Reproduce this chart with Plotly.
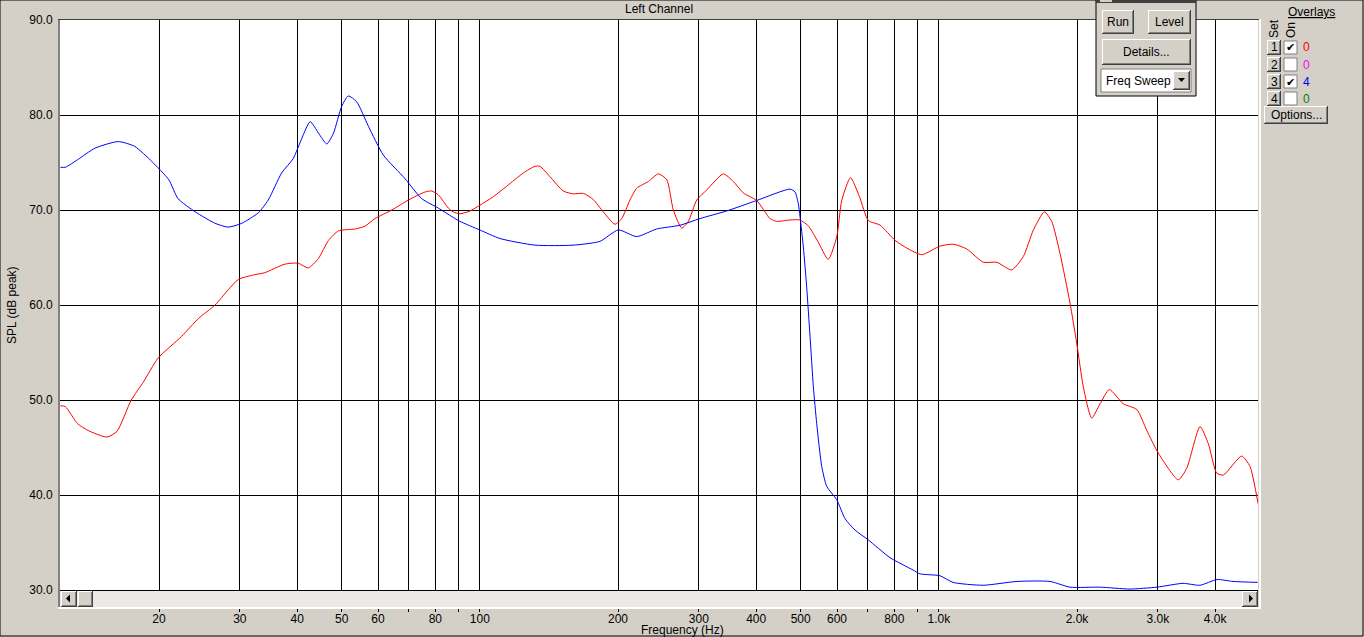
import math
import plotly.graph_objects as go

# frequency response (Hz, dB SPL peak)
blue_freq = [12.2, 12.5, 13.3, 14.5, 16.3, 17.7, 19.3, 21.0, 22.0, 24.0, 26.5, 28.3, 30.3, 32.9,
             34.6, 37.0, 39.2, 40.9, 42.7, 44.5, 46.4, 48.0, 50.0, 51.7, 53.9, 57.2, 61.6, 68.7,
             74.7, 81.2, 88.3, 90.5, 100, 110.6, 131.9, 159.6, 182.7, 200.3, 219.7, 242.8, 273,
             301.8, 345, 401, 474, 486, 494, 498.4, 506.8, 515.5, 524.1, 532.9, 542, 555.8, 570,
             599.3, 624.8, 657, 701, 783, 879, 910, 1006, 1074, 1249, 1480, 1747, 1931, 2245,
             2609, 2988, 3404, 3707, 4037, 4375, 4950]
blue_db = [74.5, 74.5, 75.3, 76.5, 77.2, 76.7, 75.1, 73.2, 71.2, 69.8, 68.6, 68.2, 68.6, 69.7,
           71.05, 73.9, 75.4, 77.5, 79.3, 78.1, 76.95, 78.1, 80.9, 82.0, 81.4, 78.8, 75.8, 73.3,
           71.2, 70.2, 69.1, 68.8, 67.9, 67.0, 66.3, 66.3, 66.7, 67.9, 67.2, 68.0, 68.4,
           69.1, 69.9, 71.0, 72.2, 71.9, 70.7, 69.3, 66.1, 61.8, 56.7, 51.4, 47.5, 43.0, 40.9,
           39.5, 37.5, 36.3, 35.3, 33.4, 32.1, 31.7, 31.5, 30.8, 30.5, 30.9, 30.9, 30.3, 30.3,
           30.1, 30.3, 30.7, 30.5, 31.1, 30.9, 30.8]

red_freq = [12.2, 12.5, 13.3, 14.0, 15.4, 16.2, 17.4, 18.5, 19.9, 22.4,
            24.4, 26.5, 28.3, 29.8, 32.4, 34.0, 37.6, 40.2, 42.3, 44.5,
            46.8, 49.2, 53.5, 56.2, 59.1, 64.3, 69.9, 76.0, 78.5, 81.2,
            85.4, 87.5, 90.5, 95.2, 100, 107, 114.4, 124.4, 131.9, 135.2,
            142.2, 152, 159.8, 168.1, 176.7, 185.8, 197, 203.8, 212.4, 219.7,
            232.9, 244.8, 255.4, 264, 275.4, 284.6, 296.9, 312.1, 339.2, 356.7,
            375, 401, 428.7, 443.4, 474, 498, 520, 545, 574.3, 599.3,
            614.4, 642, 671.6, 702, 745, 803, 851, 918, 1006, 1075,
            1150, 1250, 1337, 1441, 1528, 1607, 1698, 1762, 1837, 1931,
            1997, 2064, 2153, 2245, 2352, 2523, 2700, 2838, 3008, 3324,
            3467, 3707, 3865, 4031, 4167, 4569, 4764, 4960]
red_db = [49.4, 49.3, 47.5, 46.8, 46.1, 46.7, 50.0, 51.9, 54.4, 56.7,
          58.6, 60.0, 61.6, 62.7, 63.2, 63.4, 64.3, 64.4, 63.9, 64.9,
          66.8, 67.8, 68.0, 68.3, 69.1, 70.0, 71.05, 71.9, 72.0, 71.6,
          70.2, 69.8, 69.6, 69.9, 70.5, 71.4, 72.5, 73.9, 74.6, 74.6,
          73.5, 72.0, 71.7, 71.75, 71.1, 69.8, 68.5, 69.1, 71.05, 72.3,
          73.0, 73.8, 73.2, 70.0, 68.1, 68.8, 71.05, 72.1, 73.8, 73.0,
          71.8, 71.0, 69.1, 68.8, 68.95, 68.95, 68.3, 66.7, 64.8, 67.2,
          71.0, 73.4, 71.4, 68.9, 68.4, 66.8, 66.0, 65.3, 66.2, 66.4,
          65.9, 64.5, 64.5, 63.7, 65.1, 67.9, 69.8, 68.8, 65.4, 60.2,
          56.0, 51.4, 48.1, 49.6, 51.1, 49.6, 49.0, 46.8, 44.4, 41.6,
          42.8, 47.2, 45.4, 42.3, 42.1, 44.1, 43.0, 39.1]

grid_freqs = [20, 30, 40, 50, 60, 70, 80, 90, 100, 200, 300, 400, 500, 600, 700, 800, 900,
              1000, 2000, 3000, 4000]
grid_labels = ["20", "30", "40", "50", "60", "", "80", "", "100", "200", "300", "400", "500",
               "600", "", "800", "", "1.0k", "2.0k", "3.0k", "4.0k"]
db_ticks = [30, 40, 50, 60, 70, 80, 90]
db_labels = ["30.0", "40.0", "50.0", "60.0", "70.0", "80.0", "90.0"]

WIDTH, HEIGHT = 1364, 637
L, R, T, B = 60, 1258, 20, 607   # plot box in page pixels (bottom includes scrollbar)
BG = "#d4d0c8"
FONT = "Liberation Sans, Arial, sans-serif"


def px(x):
    return (x - L) / (R - L)


def py(y):
    return (B - y) / (B - T)


shapes = []
annotations = []


def rect(x0, y0, x1, y1, fill, line=None, layer="above"):
    shapes.append(dict(type="rect", xref="paper", yref="paper",
                       x0=px(x0), x1=px(x1), y0=py(y0), y1=py(y1),
                       fillcolor=fill, layer=layer,
                       line=dict(width=1 if line else 0, color=line or fill)))


def seg(x0, y0, x1, y1, color, w=1):
    shapes.append(dict(type="line", xref="paper", yref="paper",
                       x0=px(x0), x1=px(x1), y0=py(y0), y1=py(y1),
                       layer="above", line=dict(color=color, width=w)))


def tri(points, color="black"):
    path = "M " + " L ".join(f"{px(a)},{py(b)}" for a, b in points) + " Z"
    shapes.append(dict(type="path", xref="paper", yref="paper", path=path,
                       fillcolor=color, line=dict(width=0), layer="above"))


def text(x, y, s, size=12, color="black", anchor="center", angle=0):
    annotations.append(dict(xref="paper", yref="paper", x=px(x), y=py(y), text=s,
                            showarrow=False, xanchor=anchor, yanchor="middle",
                            textangle=angle, font=dict(family=FONT, size=size, color=color)))


def button(x0, y0, x1, y1, label=None, size=12):
    rect(x0, y0, x1, y1, "#404040")
    rect(x0, y0, x1 - 1, y1 - 1, "#ffffff")
    rect(x0 + 1, y0 + 1, x1 - 1, y1 - 1, "#808080")
    rect(x0 + 1, y0 + 1, x1 - 2, y1 - 2, BG)
    if label:
        text((x0 + x1) / 2, (y0 + y1) / 2, label, size=size)


# window border
rect(0, 0, WIDTH - 1, HEIGHT - 1, "rgba(0,0,0,0)", line="#000000", layer="below")

# plot frame (sunken)
seg(L - 1, T - 1, L - 1, B + 1, "#808080", 2)
seg(L - 2, T - 0.5, R + 2, T - 0.5, "#404040", 1)
seg(R + 2, T - 1, R + 2, B + 2, "#ffffff", 2)
seg(L - 2, B + 1, R + 3, B + 1, "#ffffff", 2)

# scrollbar
rect(L, 591, R, B, "#ebe9e5")
button(L + 1, 591, L + 17, B)
tri([(66, 598.5), (70, 594.5), (70, 602.5)])
button(L + 18, 591, L + 33, B)
button(R - 16, 591, R, B)
tri([(1253, 598.5), (1249, 594.5), (1249, 602.5)])

# control panel
rect(1096, 0, 1196, 96, BG, line="#000000")
rect(1096, 0, 1196, 3, "#404040")
rect(1100, 0, 1112, 2, "#d4d0c8")
button(1102, 10, 1134, 34, "Run")
button(1148, 10, 1191, 34, "Level")
button(1102, 39, 1191, 65, "Details...")
rect(1101, 69, 1191, 92, "#ffffff", line="#808080")
text(1104, 80.5, "Freq Sweep", anchor="left")
button(1173, 71, 1190, 90)
tri([(1178, 78), (1185, 78), (1181.5, 82)])

# overlays panel
text(1311, 12, "<u>Overlays</u>")
text(1274, 29, "Set", angle=-90)
text(1291, 30, "On", angle=-90)
set_colors = ["#ff0000", "#ff00ff", "#0000ff", "#008000"]
set_counts = ["0", "0", "4", "0"]
set_checked = [True, False, True, False]
for i in range(4):
    y0 = 40 + i * 17
    button(1267, y0, 1281, y0 + 15, str(i + 1))
    rect(1284, y0 + 1, 1297, y0 + 14, "#ffffff", line="#808080")
    if set_checked[i]:
        text(1290.5, y0 + 7.5, "\u2714", size=11)
    text(1301, y0 + 7.5, set_counts[i], color=set_colors[i], anchor="left")
button(1264, 106, 1328, 124, "Options...")

# titles
text((L + R) / 2, 9, "Left Channel")
text(12, 305, "SPL (dB peak)", angle=-90)
text(682, 630, "Frequency (Hz)")

fig = go.Figure()
fig.add_trace(go.Scatter(x=red_freq, y=red_db, mode="lines",
                         line=dict(color="#ff0000", width=1, shape="spline", smoothing=0.6),
                         hoverinfo="skip"))
fig.add_trace(go.Scatter(x=blue_freq, y=blue_db, mode="lines",
                         line=dict(color="#0000ff", width=1, shape="spline", smoothing=0.6),
                         hoverinfo="skip"))

y_bottom = 30 - (B - 590) / 9.5
x_left = math.log10(20) - (159 - L) / 459
x_right = x_left + (R - L) / 459

fig.update_layout(
    width=WIDTH, height=HEIGHT,
    margin=dict(l=L, r=WIDTH - R, t=T, b=HEIGHT - B),
    paper_bgcolor=BG, plot_bgcolor="#ffffff",
    showlegend=False,
    font=dict(family=FONT, size=12, color="black"),
    shapes=shapes, annotations=annotations,
    xaxis=dict(type="log", range=[x_left, x_right], tickvals=grid_freqs, ticktext=grid_labels,
               showgrid=True, gridcolor="#000000", gridwidth=1, zeroline=False,
               showline=False, ticks="outside", ticklen=4, tickcolor="#000000",
               ticklabelstandoff=-3, tickfont=dict(size=12)),
    yaxis=dict(range=[y_bottom, 90], tickvals=db_ticks, ticktext=db_labels,
               showgrid=True, gridcolor="#000000", gridwidth=1, zeroline=False,
               showline=False, ticks="outside", ticklen=4, tickcolor=BG,
               tickfont=dict(size=12)),
)

# the page is photographed at exactly the figure size, so drop the body margin
fig.write_html("out.html", config={"displayModeBar": False},
               post_script="document.body.style.margin='0';document.body.style.overflow='hidden';")
